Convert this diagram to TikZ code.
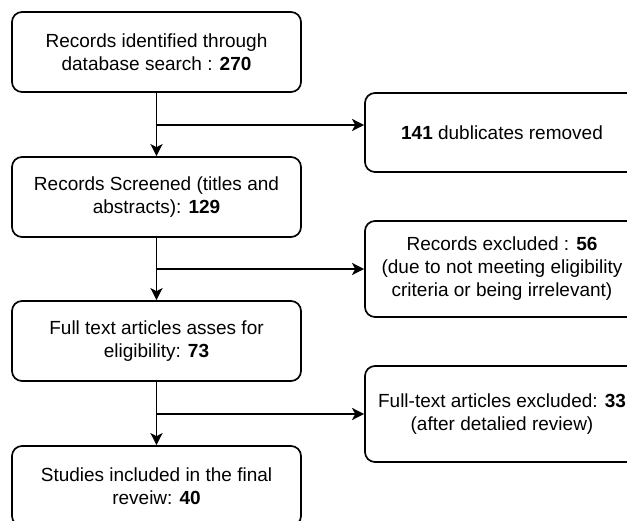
\documentclass[tikz,border=0pt]{standalone}
\usepackage{fontspec}
\setmainfont{Liberation Sans}
\usetikzlibrary{arrows.meta}
\begin{document}
\begin{tikzpicture}[x=1pt,y=-1pt,
  box/.style={draw=black,line width=1.7pt,rounded corners=10pt,align=center,inner sep=0pt,font=\fontsize{19}{23}\selectfont},
  lbox/.style={box,minimum width=289pt,minimum height=80pt},
  rbox/.style={box,minimum width=274pt},
  conn/.style={line width=1.7pt,-{Stealth[length=12pt,width=12pt,inset=3pt]}}]
\clip (0,0) rectangle (627,521);
\useasboundingbox (0,0) rectangle (627,521);
\node[lbox] (b1) at (156.5,52) {Records identified through\\database search : \textbf{270}};
\node[lbox] (b2) at (156.5,197) {Records Screened (titles and\\abstracts): \textbf{129}};
\node[lbox] (b3) at (156.5,341) {Full text articles asses for\\eligibility: \textbf{73}};
\node[lbox] (b4) at (156.5,486) {Studies included in the final\\reveiw: \textbf{40}};
\node[rbox,minimum height=79pt] (r1) at (502,132.5) {\textbf{141} dublicates removed};
\node[rbox,minimum height=96pt] (r2) at (502,269) {Records excluded : \textbf{56}\\(due to not meeting eligibility\\criteria or being irrelevant)};
\node[rbox,minimum height=96pt] (r3) at (502,414) {Full-text articles excluded: \textbf{33}\\(after detalied review)};
\coordinate (j1) at (156.5,125);
\coordinate (j2) at (156.5,269);
\coordinate (j3) at (156.5,414);
\draw[conn] (b1.south) -- (b2.north);
\draw[conn] (b2.south) -- (b3.north);
\draw[conn] (b3.south) -- (b4.north);
\draw[conn] (j1) -- (j1 -| r1.west);
\draw[conn] (j2) -- (r2.west);
\draw[conn] (j3) -- (r3.west);
\end{tikzpicture}
\end{document}
